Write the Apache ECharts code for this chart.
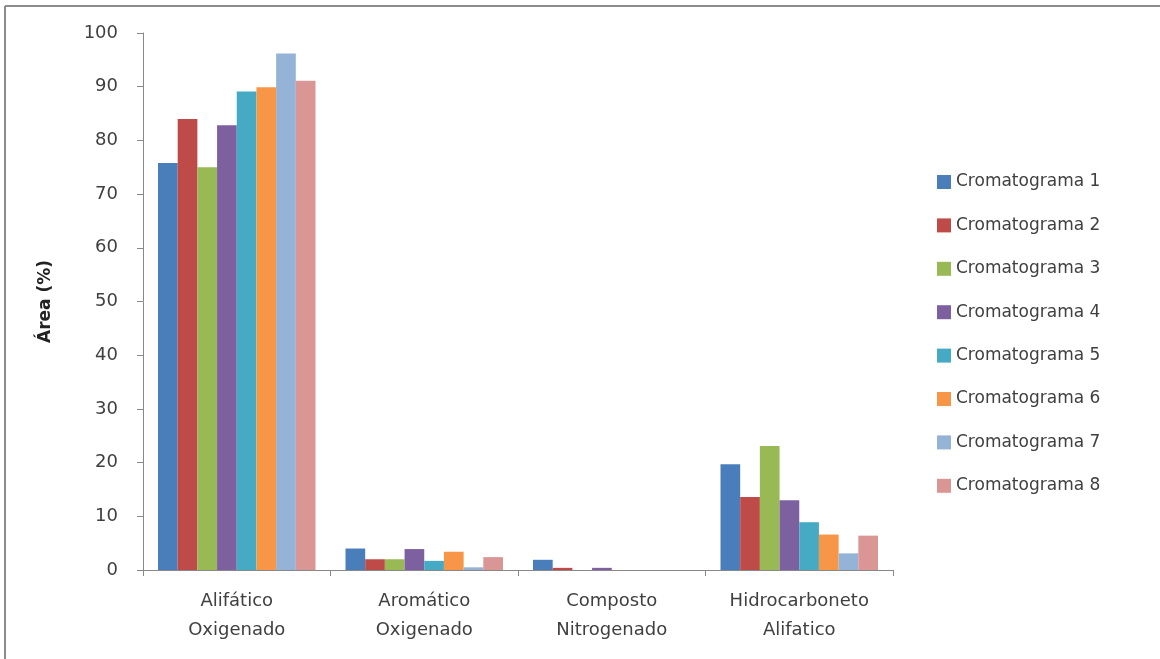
<!DOCTYPE html>
<html><head><meta charset="utf-8">
<script src="https://cdn.jsdelivr.net/npm/echarts@6/dist/echarts.min.js"></script>
<style>html,body{margin:0;padding:0;background:#fff}#c{width:1160px;height:659px}</style>
</head><body><div id="c"></div>
<script>
const categories = ['Alifático\nOxigenado', 'Aromático\nOxigenado', 'Composto\nNitrogenado', 'Hidrocarboneto\nAlifatico'];
const seriesNames = ['Cromatograma 1','Cromatograma 2','Cromatograma 3','Cromatograma 4','Cromatograma 5','Cromatograma 6','Cromatograma 7','Cromatograma 8'];
const crom1 = [75.8, 4.0, 1.9, 19.7];
const crom2 = [84.0, 2.0, 0.4, 13.6];
const crom3 = [75.0, 2.0, 0.0, 23.1];
const crom4 = [82.8, 3.9, 0.4, 13.0];
const crom5 = [89.1, 1.7, 0.0, 8.9];
const crom6 = [89.9, 3.4, 0.0, 6.6];
const crom7 = [96.2, 0.5, 0.0, 3.1];
const crom8 = [91.1, 2.4, 0.0, 6.4];
const allData = [crom1, crom2, crom3, crom4, crom5, crom6, crom7, crom8];
const colors = ['#4A7EBB','#BE4B48','#98B954','#7D60A0','#46AAC5','#F79646','#95B3D7','#D99694'];
const yTicks = [0,10,20,30,40,50,60,70,80,90,100];

const font = '"DejaVu Sans", "Open Sans", sans-serif';
const chart = echarts.init(document.getElementById('c'), null, {renderer:'canvas'});
chart.setOption({
  animation: false,
  color: colors,
  textStyle: {fontFamily: font},
  graphic: [
    {type:'line', shape:{x1:5, y1:6, x2:1160, y2:6}, style:{stroke:'#8c8c8c', lineWidth:2}},
    {type:'line', shape:{x1:5, y1:6, x2:5, y2:659}, style:{stroke:'#8c8c8c', lineWidth:2}}
  ],
  grid: {left:143, right:267, top:33, bottom:89, containLabel:false},
  legend: {
    orient:'vertical', left:932, top:167, itemGap:23.4, itemWidth:14, itemHeight:14,
    icon:'rect', textStyle:{fontSize:17, lineHeight:20, color:'#404040', fontFamily:font}, data: seriesNames
  },
  xAxis: {
    type:'category', data: categories,
    axisLine:{lineStyle:{color:'#888', width:1}},
    axisTick:{show:true, alignWithLabel:false, length:6, lineStyle:{color:'#888'}},
    axisLabel:{fontSize:18, color:'#404040', lineHeight:29, margin:17, interval:0}
  },
  yAxis: {
    type:'value', min:0, max:100, interval:10,
    name:'Área (%)', nameLocation:'middle', nameGap:89, nameRotate:90,
    nameTextStyle:{fontSize:17, fontWeight:'bold', color:'#222'},
    axisLine:{show:true, lineStyle:{color:'#888'}},
    axisTick:{show:true, length:6, lineStyle:{color:'#888'}},
    splitLine:{show:false},
    axisLabel:{fontSize:18, color:'#404040', margin:25,
      formatter: v => yTicks.includes(v) ? String(v) : ''}
  },
  series: allData.map((d,i)=>({
    name: seriesNames[i], type:'bar', data:d, barGap:'0%', barCategoryGap:'16%',
    itemStyle:{color:colors[i]}
  }))
});
</script></body></html>
